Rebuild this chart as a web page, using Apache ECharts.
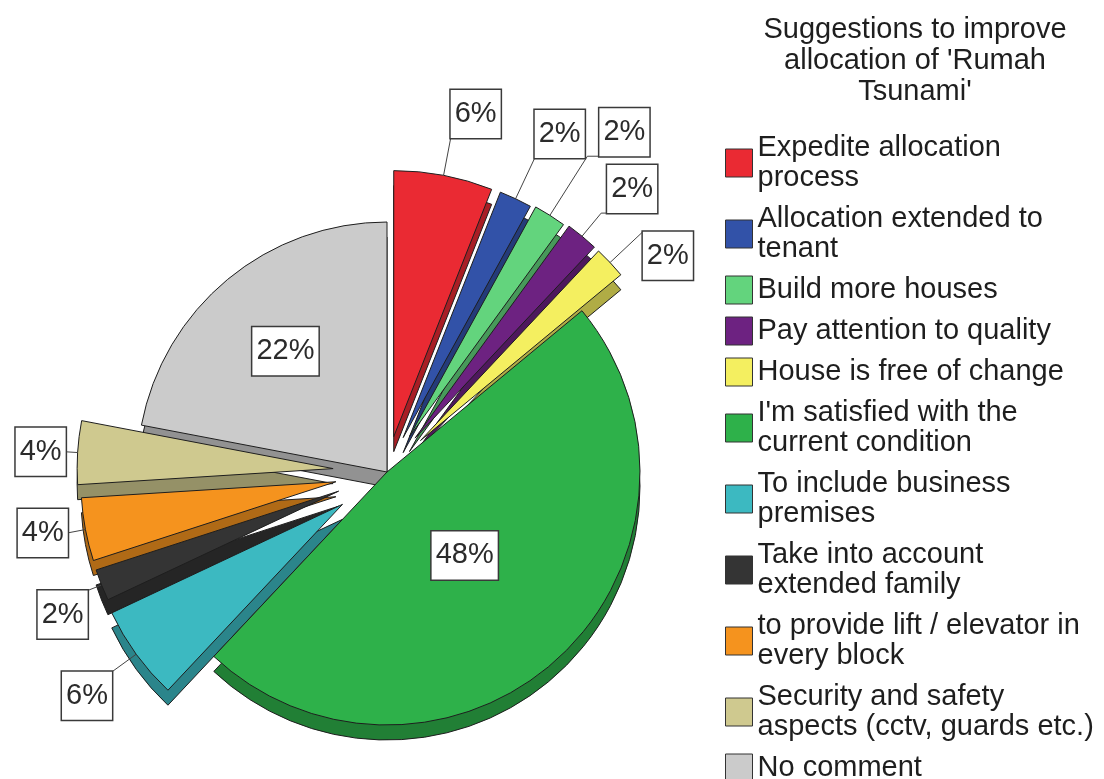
<!DOCTYPE html>
<html>
<head>
<meta charset="utf-8">
<title>Suggestions to improve allocation of 'Rumah Tsunami'</title>
<script src="https://cdn.jsdelivr.net/npm/echarts@6/dist/echarts.min.js"></script>
<style>
  html, body { margin: 0; padding: 0; background: #ffffff; }
  #chart { width: 1104px; height: 779px; }
</style>
</head>
<body>
<div id="chart"></div>
<script>
// ---- data ----
const categories = [
  'Expedite allocation\nprocess',
  'Allocation extended to\ntenant',
  'Build more houses',
  'Pay attention to quality',
  'House is free of change',
  "I'm satisfied with the\ncurrent condition",
  'To include business\npremises',
  'Take into account\nextended family',
  'to provide lift / elevator in\nevery block',
  'Security and safety\naspects (cctv, guards etc.)',
  'No comment'
];
const percents = [6, 2, 2, 2, 2, 48, 6, 2, 4, 4, 22];
const titleText = "Suggestions to improve\nallocation of 'Rumah\nTsunami'";

// ---- styling ----
const colors = ['#ea2a33', '#3252a8', '#63d47d', '#6d2281', '#f4ef60', '#2eb14a',
                '#3cb9c1', '#343434', '#f5931e', '#cfc98f', '#cbcbcb'];
const FONT = "'Liberation Sans', Arial, Helvetica, sans-serif";

// exploded 3D pie layout: base centre, per-slice pull-out, radius, extrusion depth
const pieCenter = [387, 472];
const explode = [36, 38, 42, 44, 46, 0, 55, 52, 52, 54, 0];
const sliceRadius = [266, 264, 262, 262, 260, 253, 255, 255, 255, 256, 250];
const depth = 15;
// leader line (radial part, horizontal part) and label box anchoring per slice
const leaderLen = [38, 45, 70, 30, 45, 0, 30, 15, 18, 12, 0];
const leaderLen2 = [0, 0, 12, 6, 0, 0, 0, 0, 0, 0, 0];
const labelVAlign = ['bottom', 'bottom', 'bottom', 'bottom', 'top', null, 'top', 'top', 'middle', 'middle', null];
const insideNudge = { 5: [-11, -11], 10: [-20, -22] };

function shade(hex, f) {
  const n = parseInt(hex.slice(1), 16);
  const r = Math.round(((n >> 16) & 255) * f);
  const g = Math.round(((n >> 8) & 255) * f);
  const b = Math.round((n & 255) * f);
  return 'rgb(' + r + ',' + g + ',' + b + ')';
}

// mid angle of every slice (radians, clockwise from 12 o'clock)
const total = percents.reduce((a, b) => a + b, 0);
let acc = 0;
const midAngles = percents.map(v => {
  const m = (acc + v / 2) / total * 2 * Math.PI;
  acc += v;
  return m;
});

const boxLabel = {
  show: true,
  formatter: '{d}%',
  color: '#2b2b2b',
  fontSize: 29,
  fontFamily: FONT,
  lineHeight: 32,
  backgroundColor: '#ffffff',
  borderColor: '#3a3a3a',
  borderWidth: 1.5,
  padding: [8, 4, 8, 4],
  alignTo: 'none',
  distanceToLabelLine: 0
};

function sliceSeries(i, isDepth) {
  const m = midAngles[i];
  const e = explode[i];
  const center = [
    pieCenter[0] + e * Math.sin(m),
    pieCenter[1] - e * Math.cos(m) + (isDepth ? depth : 0)
  ];
  const inside = leaderLen[i] === 0;
  return {
    type: 'pie',
    z: isDepth ? 1 : 2,
    silent: true,
    animation: false,
    center: center,
    radius: sliceRadius[i],
    startAngle: 90,
    clockwise: true,
    avoidLabelOverlap: false,
    percentPrecision: 0,
    emphasis: { disabled: true },
    labelLayout: function (p) {
      if (!isDepth && p.dataIndex === i && labelVAlign[i]) {
        return { verticalAlign: labelVAlign[i] };
      }
      return {};
    },
    data: percents.map((v, j) => {
      const own = j === i;
      const item = {
        name: categories[j],
        value: v,
        itemStyle: own
          ? { color: isDepth ? shade(colors[j], 0.72) : colors[j], borderColor: '#1e1e1e', borderWidth: 1 }
          : { color: 'rgba(0,0,0,0)', borderWidth: 0 },
        label: { show: false },
        labelLine: { show: false }
      };
      if (own && !isDepth) {
        item.label = Object.assign({}, boxLabel, {
          position: inside ? 'inside' : 'outside'
        });
        if (insideNudge[j]) item.label.offset = insideNudge[j];
        if (!inside) {
          item.labelLine = {
            show: true,
            length: leaderLen[i],
            length2: leaderLen2[i],
            smooth: false,
            lineStyle: { color: '#444444', width: 1 }
          };
        }
      }
      return item;
    })
  };
}

const series = [];
percents.forEach((_, i) => series.push(sliceSeries(i, true)));
percents.forEach((_, i) => series.push(sliceSeries(i, false)));

const chart = echarts.init(document.getElementById('chart'), null, { renderer: 'canvas' });
chart.setOption({
  backgroundColor: '#ffffff',
  animation: false,
  graphic: [{
    type: 'text',
    x: 915,
    y: 14,
    style: {
      text: titleText,
      align: 'center',
      verticalAlign: 'top',
      fontSize: 29,
      lineHeight: 31,
      fontFamily: FONT,
      fill: '#1e1e1e'
    }
  }],
  legend: {
    orient: 'vertical',
    left: 720,
    top: 128,
    itemWidth: 27,
    itemHeight: 28,
    itemGap: 11,
    icon: 'rect',
    selectedMode: false,
    textStyle: { fontSize: 29, lineHeight: 30, color: '#1e1e1e', fontFamily: FONT },
    itemStyle: { borderColor: '#333333', borderWidth: 1 },
    data: categories.map((n, i) => ({ name: n, itemStyle: { color: colors[i] } }))
  },
  series: series
});
</script>
</body>
</html>
